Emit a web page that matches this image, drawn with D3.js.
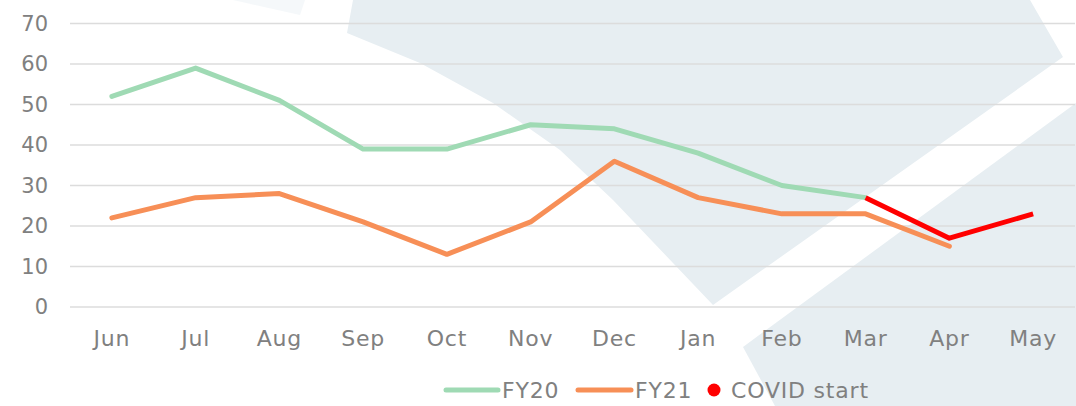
<!DOCTYPE html>
<html>
<head>
<meta charset="utf-8">
<script src="https://cdn.jsdelivr.net/npm/d3@7"></script>
<style>
  body { margin: 0; background: #fff; }
  svg text { font-family: "DejaVu Sans", sans-serif; fill: #808080; }
</style>
</head>
<body>
<div id="chart"></div>
<script>
// data
var months = ["Jun", "Jul", "Aug", "Sep", "Oct", "Nov", "Dec", "Jan", "Feb", "Mar", "Apr", "May"];
var fy20 = [52, 59, 51, 39, 39, 45, 44, 38, 30, 27, null, null];
var fy21 = [22, 27, 28, 21, 13, 21, 36, 27, 23, 23, 15, null];
var covid = [null, null, null, null, null, null, null, null, null, 27, 17, 23];
var yTicks = [0, 10, 20, 30, 40, 50, 60, 70];

var width = 1076, height = 406;

var svg = d3.select("#chart").append("svg")
  .attr("width", width)
  .attr("height", height);

// faint background watermark
var bg = svg.append("g").attr("fill", "#e7eef2");
bg.append("path").attr("d", "M233,0 L305,0 L300,15 Z").attr("opacity", 0.4);
bg.append("path").attr("d", "M353,0 L1030,0 L1063,57 L713,305 L613,200 L560,150 L493,103 L420,63 L347,33 Z");
bg.append("path").attr("d", "M743,347 L1076,103 L1076,406 L775,406 Z");

var x = d3.scaleBand()
  .domain(months)
  .range([70, 1075]);

var y = d3.scaleLinear()
  .domain([0, 70])
  .range([307, 23.5]);

// gridlines
svg.append("g")
  .selectAll("line")
  .data(yTicks)
  .enter()
  .append("line")
  .attr("x1", 70)
  .attr("x2", 1075)
  .attr("y1", function(d) { return y(d); })
  .attr("y2", function(d) { return y(d); })
  .attr("stroke", "#dcdcdc")
  .attr("stroke-width", 1.5);

// y axis labels
var yAxis = svg.append("g")
  .attr("transform", "translate(48,0)")
  .call(d3.axisLeft(y).tickValues(yTicks).tickSize(0).tickPadding(0));
yAxis.select(".domain").remove();
yAxis.selectAll("text")
  .attr("font-size", 21)
  .attr("font-family", "DejaVu Sans")
  .attr("fill", "#808080");

// x axis labels
var xAxis = svg.append("g")
  .attr("transform", "translate(0,330)")
  .call(d3.axisBottom(x).tickSize(0).tickPadding(0));
xAxis.select(".domain").remove();
xAxis.selectAll("text")
  .attr("font-size", 22)
  .attr("letter-spacing", 0.8)
  .attr("font-family", "DejaVu Sans")
  .attr("fill", "#808080");

var line = d3.line()
  .defined(function(d) { return d != null; })
  .x(function(d, i) { return x(months[i]) + x.bandwidth() / 2; })
  .y(function(d) { return y(d); });

var series = [
  { name: "FY20", values: fy20, color: "#9fdab4" },
  { name: "FY21", values: fy21, color: "#f78f57" },
  { name: "COVID start", values: covid, color: "#ff0000" }
];

svg.append("g")
  .selectAll("path")
  .data(series)
  .enter()
  .append("path")
  .attr("d", function(s) { return line(s.values); })
  .attr("fill", "none")
  .attr("stroke", function(s) { return s.color; })
  .attr("stroke-width", 5)
  .attr("stroke-linejoin", "round")
  .attr("stroke-linecap", function(s) { return s.name == "COVID start" ? "butt" : "round"; });

// legend
var legend = svg.append("g");
var items = [
  { s: series[0], x1: 446, x2: 498, tx: 502 },
  { s: series[1], x1: 578, x2: 631, tx: 635 }
];
items.forEach(function(it) {
  legend.append("line")
    .attr("x1", it.x1).attr("x2", it.x2)
    .attr("y1", 390).attr("y2", 390)
    .attr("stroke", it.s.color)
    .attr("stroke-width", 5)
    .attr("stroke-linecap", "round");
  legend.append("text")
    .attr("x", it.tx).attr("y", 398)
    .attr("font-size", 22)
    .attr("letter-spacing", 0.8)
    .text(it.s.name);
});
legend.append("circle")
  .attr("cx", 714).attr("cy", 390).attr("r", 6.5)
  .attr("fill", series[2].color);
legend.append("text")
  .attr("x", 731).attr("y", 398)
  .attr("font-size", 22)
  .attr("letter-spacing", 0.8)
  .text(series[2].name);
</script>
</body>
</html>
